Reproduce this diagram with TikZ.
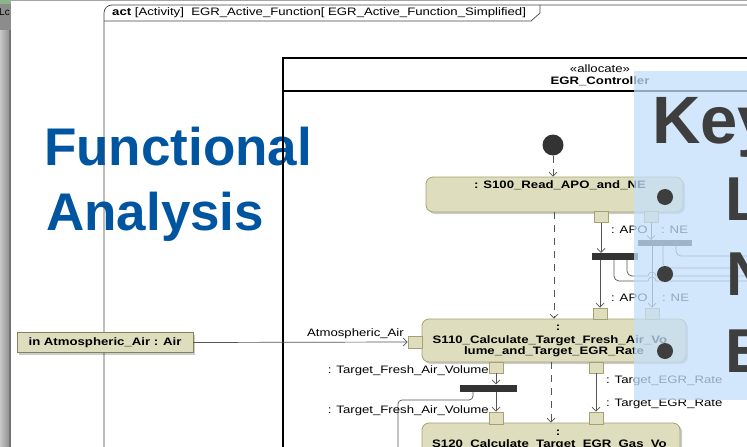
\documentclass[tikz,border=0pt]{standalone}
\usepackage{fontspec}
\setmainfont{Liberation Sans}
\newfontfamily\uml[FakeStretch=1.22]{Liberation Sans}
\usetikzlibrary{arrows.meta,shadows}
\definecolor{actfill}{RGB}{222,222,190}
\definecolor{actline}{RGB}{165,162,112}
\definecolor{barcol}{RGB}{51,51,51}
\definecolor{flowcol}{RGB}{85,85,85}
\definecolor{titleblue}{RGB}{0,85,160}
\definecolor{keyblue}{RGB}{196,224,250}
\definecolor{keytext}{RGB}{62,62,62}
\definecolor{framecol}{RGB}{70,70,70}
\tikzset{
  umlr/.style={font=\uml\fontsize{10.8}{12}\selectfont, inner sep=0pt, text height=8pt, text depth=2pt},
  umlb/.style={umlr, font=\uml\fontsize{10.8}{12}\selectfont\bfseries},
  shad/.style={drop shadow={shadow xshift=2pt, shadow yshift=-2pt, fill=black, opacity=0.2}},
  action/.style={draw=actline, fill=actfill, rounded corners=7pt, line width=0.8pt, inner sep=0pt, shad},
  pinbox/.style={draw=actline, fill=actfill, line width=0.8pt, inner sep=0pt, minimum width=14pt, minimum height=11pt},
  forkbar/.style={fill=barcol, inner sep=0pt},
  flow/.style={draw=flowcol, line width=0.7pt, -{Straight Barb[length=4pt,width=8pt]}},
  flowline/.style={draw=flowcol, line width=0.7pt},
  ctrl/.style={flow, dash pattern=on 7pt off 6pt},
  bigtext/.style={inner sep=0pt, anchor=base west, font=\fontsize{62}{66}\selectfont\bfseries, text=keytext},
  bullet/.style={circle, fill=keytext, minimum size=16pt, inner sep=0pt}
}
\begin{document}
\begin{tikzpicture}[x=1pt,y=-1pt]
\useasboundingbox (0,0) rectangle (747,447);
\begin{scope}
\clip (0,0) rectangle (747,447);
\fill[white] (0,0) rectangle (747,447);
% window edge
\shade[left color=black!22, right color=black!45] (0,0) rectangle (10,447);
\draw[black!55, line width=1.5pt] (10,0) -- (10,447);
\fill[black!45] (0,0) rectangle (11,30);
\fill[green!35!black!45] (0,0) rectangle (11,4);
\node[anchor=west, inner sep=0pt, font=\fontsize{10}{12}\selectfont] (lc) at (-1,12) {Lc};
\draw[black!35, line width=1pt] (10,0.5) -- (747,0.5);
% slide title
\node[inner sep=0pt, anchor=base west, font=\fontsize{53}{60}\selectfont\bfseries, text=titleblue] (fa1) at (44,165) {Functional};
\node[inner sep=0pt, anchor=base west, font=\fontsize{53}{60}\selectfont\bfseries, text=titleblue] (fa2) at (46,230) {Analysis};
% activity frame
\draw[framecol, line width=0.7pt, rounded corners=8pt] (104,450) -- (104,5) -- (750,5);
\draw[framecol, line width=0.7pt] (104,21) -- (531,21) -- (540,13) -- (540,5);
\node[umlr, anchor=west] (title) at (112,13) {\textbf{act} [Activity]\ \ EGR\_Active\_Function[ EGR\_Active\_Function\_Simplified]};
% partition
\draw[line width=1.4pt] (750,58) -- (283,58) -- (283,450);
\draw[line width=1.4pt] (283,91) -- (750,91);
\node[umlr] (alloc) at (600,69) {«allocate»};
\node[umlb] (ctrlname) at (600,81) {EGR\_Controller};
% initial node
\node[circle, fill=barcol, minimum size=21pt, inner sep=0pt] (init) at (553,145) {};
% actions
\node[action, minimum width=257pt, minimum height=35pt] (s100) at (554.5,194.5) {};
\node[umlb] (s100t) at (560,185) {: S100\_Read\_APO\_and\_NE};
\node[action, minimum width=264pt, minimum height=43pt] (s110) at (554,340.5) {};
\node[umlb] (s110c) at (558,327) {:};
\node[umlb] (s110l1) at (550,340) {S110\_Calculate\_Target\_Fresh\_Air\_Vo};
\node[umlb] (s110l2) at (554,351) {lume\_and\_Target\_EGR\_Rate};
\node[action, minimum width=258pt, minimum height=60pt] (s120) at (551,453) {};
\node[umlb] (s120c) at (558,432) {:};
\node[umlb, anchor=west] (s120l1) at (432,444) {S120\_Calculate\_Target\_EGR\_Gas\_Vo};
% pins
\node[pinbox] (s100apo) at (601,217) {};
\node[pinbox] (s100ne) at (651,217) {};
\node[pinbox] (s110apo) at (600,313.5) {};
\node[pinbox] (s110ne) at (652,313.5) {};
\node[pinbox, minimum height=12pt] (s110in) at (415,342) {};
\node[pinbox] (s110tfa) at (496,367.5) {};
\node[pinbox] (s110egr) at (596,367.5) {};
\node[pinbox, minimum height=12pt] (s120tfa) at (496,418) {};
\node[pinbox, minimum height=12pt] (s120egr) at (596,418) {};
% parameter
\node[draw=actline!80!black, fill=actfill, line width=0.8pt, minimum width=176pt, minimum height=20pt, inner sep=0pt, shad, font=\uml\fontsize{10.8}{12}\selectfont\bfseries] (param) at (105,342.5) {in Atmospheric\_Air : Air};
% forks
\node[forkbar, minimum width=46pt, minimum height=7pt] (fork1) at (615,256.5) {};
\node[forkbar, minimum width=54pt, minimum height=6pt] (fork2) at (665,243) {};
\node[forkbar, minimum width=57pt, minimum height=7pt] (fork3) at (488.5,388) {};
% control flows
\draw[ctrl] (init.south) -- (init.south |- s100.north);
\draw[ctrl] (s100.south -| 554,0) -- (s110.north -| 554,0);
\draw[ctrl] (s110.south -| 551,0) -- (s120.north -| 551,0);
% object flows
\draw[flow] (s100apo.south) -- (s100apo.south |- fork1.north);
\draw[flow] (s100ne.south) -- (s100ne.south |- fork2.north);
\draw[flow] (fork1.south -| s110apo) -- (s110apo.north);
\draw[flow] (fork2.south -| s110ne) -- (s110ne.north);
\draw[flow] (param.east) -- (s110in.west);
\draw[flow] (s110tfa.south) -- (s110tfa.south |- fork3.north);
\draw[flow] (fork3.south -| s120tfa) -- (s120tfa.north);
\draw[flow] (s110egr.south) -- (s120egr.north);
\coordinate (o1) at (750,281);
\coordinate (o2) at (750,276);
\coordinate (o3) at (750,268);
\coordinate (o4) at (750,256);
\coordinate (o5) at (398,450);
\draw[flowline] (fork1.south -| 614,0) -- (614,276) arc[start angle=180,end angle=90,radius=5] -- (648,281) arc[start angle=180,end angle=360,radius=4] -- (o1);
\draw[flowline] (fork1.south -| 627,0) -- (627,271) arc[start angle=180,end angle=90,radius=5] -- (648,276) arc[start angle=180,end angle=360,radius=4] -- (o2);
\draw[flowline] (fork2.south -| 663,0) -- (663,263) arc[start angle=180,end angle=90,radius=5] -- (o3);
\draw[flowline] (fork2.south -| 676,0) -- (676,251) arc[start angle=180,end angle=90,radius=5] -- (o4);
\draw[flowline] (fork3.south -| 473,0) -- (473,396) arc[start angle=0,end angle=90,radius=4] -- (402,400) arc[start angle=270,end angle=180,radius=4] -- (o5);
% labels
\node[umlr, anchor=west] (lapo1) at (611,230) {: APO};
\node[umlr, anchor=west] (lne1) at (661,230) {: NE};
\node[umlr, anchor=west] (lapo2) at (611,298) {: APO};
\node[umlr, anchor=west] (lne2) at (662,298) {: NE};
\node[umlr, anchor=east] (latm) at (404,333) {Atmospheric\_Air};
\node[umlr, anchor=east] (ltfa1) at (489,370) {: Target\_Fresh\_Air\_Volume};
\node[umlr, anchor=east] (ltfa2) at (489,410) {: Target\_Fresh\_Air\_Volume};
\node[umlr, anchor=west] (legr1) at (606,380) {: Target\_EGR\_Rate};
\node[umlr, anchor=west] (legr2) at (606,403) {: Target\_EGR\_Rate};
% key overlay
\fill[keyblue, opacity=0.75] (634,71) rectangle (750,400);
\node[bigtext, font=\fontsize{67}{70}\selectfont\bfseries] (key) at (652,143) {Key};
\node[bullet] (b1) at (665,197) {};
\node[bullet] (b2) at (665,274) {};
\node[bullet] (b3) at (665,351) {};
\node[bigtext] (kl) at (725,220) {L};
\node[bigtext] (kn) at (726,295) {N};
\node[bigtext] (ke) at (725,372) {E};
\end{scope}
\end{tikzpicture}
\end{document}
